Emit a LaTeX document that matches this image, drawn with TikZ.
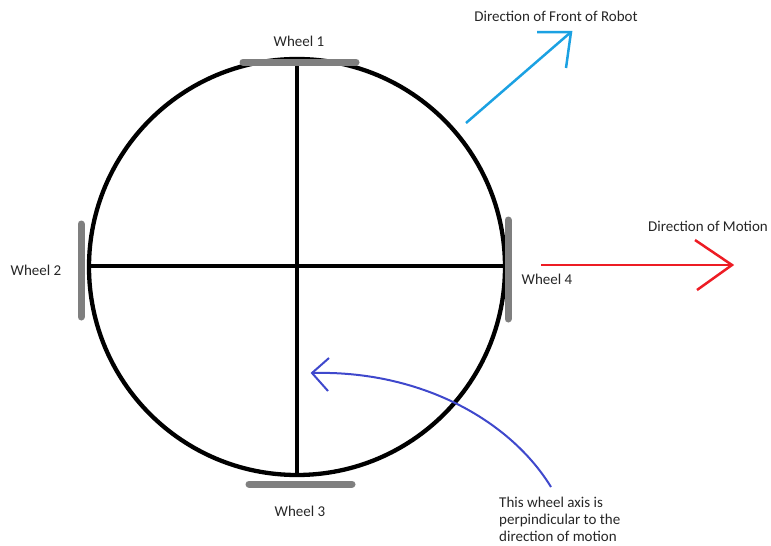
\documentclass[tikz,border=0pt]{standalone}
\usepackage{fontspec}
\setmainfont{Carlito}
\definecolor{wheelgray}{HTML}{7F7F7F}
\definecolor{frontblue}{HTML}{1BA1E2}
\definecolor{motionred}{HTML}{ED1C24}
\definecolor{notepurple}{HTML}{3F48CC}
\definecolor{txt}{HTML}{262626}
\tikzset{
  lbl/.style={font=\fontsize{15}{17}\selectfont, text=txt, inner sep=0pt},
  wheelbar/.style={draw=wheelgray, line width=7pt, line cap=round},
  body/.style={draw=black, line width=4.3pt},
  spoke/.style={draw=black, line width=4pt},
}
\begin{document}
\begin{tikzpicture}[x=1pt,y=-1pt]
\useasboundingbox (0,0) rectangle (771,546);
% body
\coordinate (c) at (297,267);
\draw[body] (c) circle [radius=208];
\coordinate (top) at (297,60);
\coordinate (bot) at (297,475);
\coordinate (lft) at (89,266);
\coordinate (rgt) at (505,266);
\draw[spoke] (top) -- (bot);
\draw[spoke] (lft) -- (rgt);
% wheels
\coordinate (w1a) at (243,62); \coordinate (w1b) at (356,62);
\coordinate (w3a) at (249,484); \coordinate (w3b) at (352,484);
\coordinate (w2a) at (81,224); \coordinate (w2b) at (81,317);
\coordinate (w4a) at (508,220); \coordinate (w4b) at (508,319);
\draw[wheelbar] (w1a) -- (w1b);
\draw[wheelbar] (w3a) -- (w3b);
\draw[wheelbar] (w2a) -- (w2b);
\draw[wheelbar] (w4a) -- (w4b);
% labels
\node[lbl] (l1) at (299,41) {Wheel 1};
\node[lbl] (l2) at (36,270) {Wheel 2};
\node[lbl] (l3) at (300,511) {Wheel 3};
\node[lbl] (l4) at (547,279) {Wheel 4};
\node[lbl] (front) at (556,16) {Direction of Front of Robot};
\node[lbl] (motion) at (708,226) {Direction of Motion};
\node[lbl, align=left, anchor=north west] (note) at (499,497) {This wheel axis is\\perpindicular to the\\direction of motion};
% front arrow
\coordinate (fs) at (466,123);
\coordinate (fe) at (571,32);
\coordinate (fh1) at (537,32);
\coordinate (fh2) at (566,68);
\draw[frontblue, line width=2.5pt] (fs) -- (fe);
\draw[frontblue, line width=2.5pt, line join=miter] (fh1) -- (fe) -- (fh2);
% motion arrow
\coordinate (ms) at (541,265);
\coordinate (me) at (732,265);
\coordinate (mh1) at (695,240);
\coordinate (mh2) at (697,290);
\draw[motionred, line width=2.5pt] (ms) -- (me);
\draw[motionred, line width=2.5pt] (mh1) -- (me) -- (mh2);
% note arrow
\coordinate (ns) at (551,487);
\coordinate (ne) at (312,373);
\coordinate (nh1) at (329,358);
\coordinate (nh2) at (328,391);
\draw[notepurple, line width=2pt] (ns) .. controls (510,420) and (420,370) .. (ne);
\draw[notepurple, line width=2pt] (nh1) -- (ne) -- (nh2);
\end{tikzpicture}
\end{document}
